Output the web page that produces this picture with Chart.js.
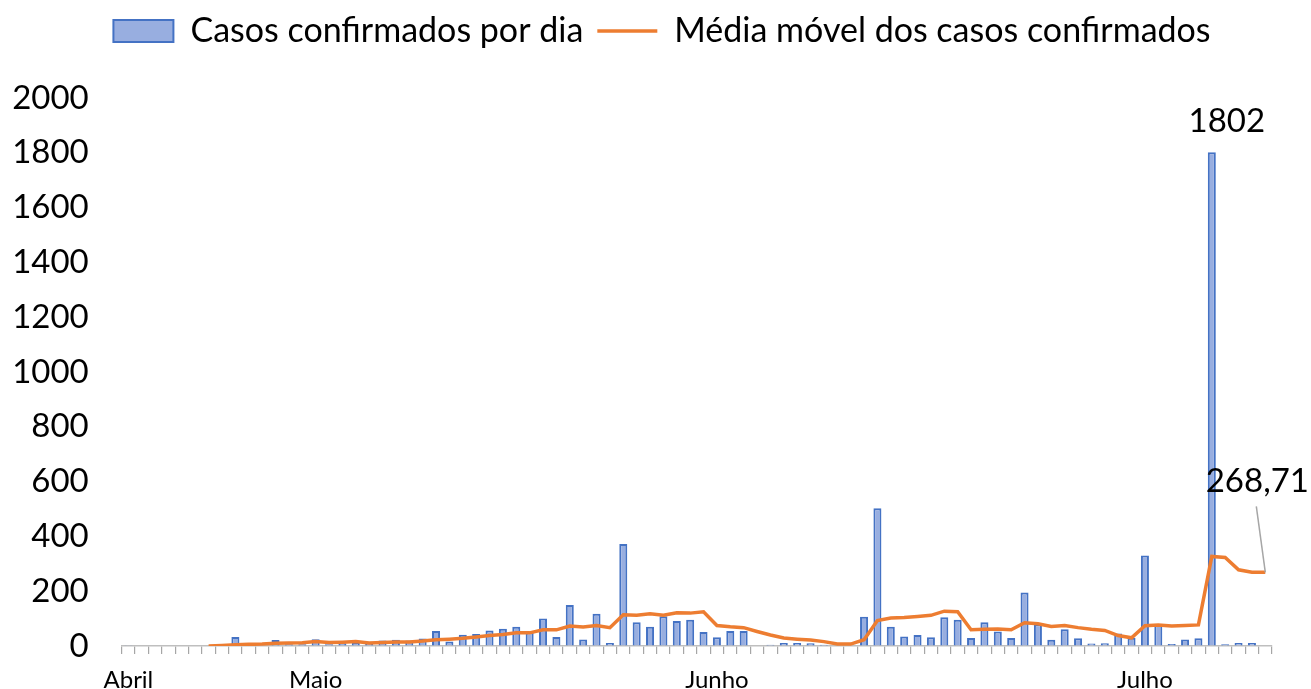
<!DOCTYPE html>
<html>
<head>
<meta charset="utf-8">
<script src="https://cdn.jsdelivr.net/npm/chart.js@4.4.1/dist/chart.umd.min.js"></script>
<style>
  body { margin: 0; background: #fff; }
  #wrap { width: 1311px; height: 689px; }
</style>
</head>
<body>
<div id="wrap"><canvas id="casosChart"></canvas></div>
<script>
// month tick labels and the day index where each one is shown
const monthLabels = ['Abril', 'Maio', 'Junho', 'Julho'];
const monthIndex = [0, 14, 44, 76];

// daily confirmed cases (null = no bar that day)
const casosPorDia = [
  3, null, null, null, null, null, null, null, 33, null,
  null, 22, 6, 6, 25, 6, 10, 12, 10, 20,
  23, 20, 27, 55, 16, 41, 44, 57, 63, 70,
  50, 100, 33, 150, 24, 118, 11, 372, 87, 70,
  109, 91, 96, 51, 32, 55, 55, null, 5, 11,
  11, 10, 5, 2, 2, 107, 503, 70, 35, 40,
  32, 105, 96, 29, 87, 53, 29, 195, 79, 23,
  61, 28, 9, 10, 46, 30, 330, 78, 7, 24,
  28, 1802, 6, 11, 11, null
];

// moving average of confirmed cases
const mediaMovel = [
  null, null, null, null, null, null, 0, 2, 5, 6,
  7, 10, 11, 12, 16, 13, 14, 16, 11, 13,
  15, 15, 18, 23, 25, 28, 33, 38, 42, 48,
  48, 59, 59, 73, 69, 75, 67, 114, 112, 118,
  112, 121, 120, 125, 75, 70, 67, 53, 40, 29,
  25, 22, 16, 7, 7, 23, 93, 102, 104, 108,
  112, 127, 125, 59, 61, 62, 59, 85, 81, 71,
  75, 67, 61, 57, 38, 30, 74, 77, 73, 75,
  77, 327, 323, 278, 269, 268.71
];

const yTicks = [0, 200, 400, 600, 800, 1000, 1200, 1400, 1600, 1800, 2000];

const categories = casosPorDia.map((v, i) => {
  const m = monthIndex.indexOf(i);
  return m >= 0 ? monthLabels[m] : '';
});

const FONT = 'Lato, "Open Sans", sans-serif';

// labels for the peak bar and the last moving-average point
const valueLabels = {
  id: 'valueLabels',
  afterDatasetsDraw(chart) {
    const ctx = chart.ctx;
    let peak = 0;
    casosPorDia.forEach((v, i) => { if (v > casosPorDia[peak]) peak = i; });
    const bar = chart.getDatasetMeta(0).data[peak];
    const pts = chart.getDatasetMeta(1).data;
    const lastIdx = mediaMovel.length - 1;
    const last = pts[lastIdx];

    ctx.save();
    ctx.font = '33px ' + FONT;
    ctx.fillStyle = '#000';
    ctx.textAlign = 'center';
    ctx.textBaseline = 'middle';
    ctx.fillText(String(casosPorDia[peak]), bar.x + 15, bar.y - 31);

    ctx.strokeStyle = '#A6A6A6';
    ctx.lineWidth = 1.5;
    ctx.beginPath();
    ctx.moveTo(last.x - 9, last.y - 66);
    ctx.lineTo(last.x, last.y);
    ctx.stroke();
    ctx.fillText(mediaMovel[lastIdx].toFixed(2).replace('.', ','), last.x - 8, last.y - 91);
    ctx.restore();
  }
};

// extra room under the legend, and nudge it right like the original
const legendSpace = {
  id: 'legendSpace',
  afterInit(chart) {
    const fit = chart.legend.fit;
    chart.legend.fit = function () {
      fit.call(this);
      this.height += 40;
    };
  },
  afterLayout(chart) {
    chart.legend.left += 26;
    chart.legend.right += 26;
  }
};

new Chart(document.getElementById('casosChart'), {
  type: 'bar',
  data: {
    labels: categories,
    datasets: [{
      type: 'bar',
      label: 'Casos confirmados por dia',
      data: casosPorDia,
      backgroundColor: '#98AEE0',
      borderColor: '#4472C4',
      borderWidth: 2,
      categoryPercentage: 1,
      barPercentage: 0.6,
      pointStyle: 'rect',
      order: 1
    }, {
      type: 'line',
      label: 'Média móvel dos casos confirmados',
      data: mediaMovel,
      borderColor: '#ED7D31',
      backgroundColor: '#ED7D31',
      borderWidth: 3.5,
      pointRadius: 0,
      pointStyle: 'line',
      tension: 0,
      order: 0
    }]
  },
  options: {
    responsive: true,
    maintainAspectRatio: false,
    animation: false,
    layout: { padding: { top: 0, right: 39, left: 0, bottom: 0 } },
    plugins: {
      legend: {
        position: 'top',
        labels: {
          usePointStyle: true,
          pointStyleWidth: 60,
          boxHeight: 22,
          color: '#000',
          font: { family: FONT, size: 34 },
          padding: 14,
          sort: (a, b) => a.datasetIndex - b.datasetIndex
        }
      },
      tooltip: { enabled: false }
    },
    scales: {
      x: {
        offset: true,
        grid: {
          offset: true,
          drawOnChartArea: false,
          drawTicks: true,
          tickLength: 8,
          color: '#A6A6A6',
          lineWidth: 1.2
        },
        border: { color: '#BFBFBF', width: 1.5 },
        ticks: {
          autoSkip: false,
          maxRotation: 0,
          minRotation: 0,
          color: '#000',
          font: { family: FONT, size: 24 },
          padding: 12
        },
        afterFit(scale) { scale.height = 43; }
      },
      y: {
        min: 0,
        max: 2000,
        afterBuildTicks(scale) { scale.ticks = yTicks.map(v => ({ value: v })); },
        grid: {
          display: true,
          drawOnChartArea: false,
          drawTicks: true,
          tickLength: 33,
          color: 'rgba(0,0,0,0)'
        },
        border: { display: false },
        ticks: {
          color: '#000',
          font: { family: FONT, size: 33 },
          padding: 0,
          callback: (v) => String(v)
        },
        afterFit(scale) { scale.width = 121.7; }
      }
    }
  },
  plugins: [valueLabels, legendSpace]
});
</script>
</body>
</html>
